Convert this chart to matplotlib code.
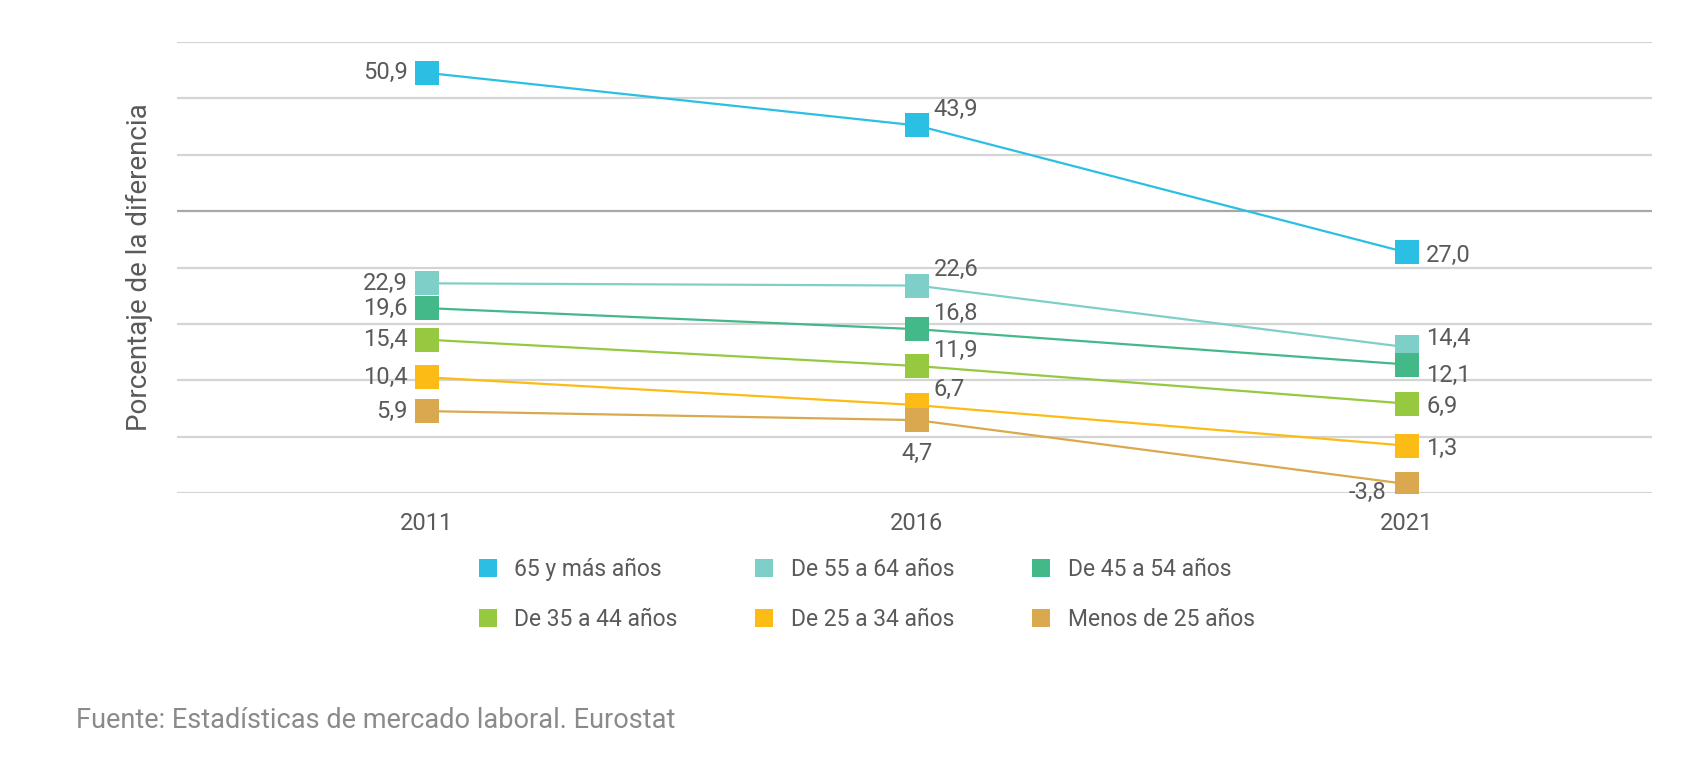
import numpy as np
import matplotlib
matplotlib.use('Agg')
import matplotlib.pyplot as plt
from matplotlib.lines import Line2D

# Data
years = ['2011', '2016', '2021']
groups = ['65 y más años', 'De 55 a 64 años', 'De 45 a 54 años',
          'De 35 a 44 años', 'De 25 a 34 años', 'Menos de 25 años']
v65 = [50.9, 43.9, 27.0]
v55 = [22.9, 22.6, 14.4]
v45 = [19.6, 16.8, 12.1]
v35 = [15.4, 11.9, 6.9]
v25 = [10.4, 6.7, 1.3]
v_menos25 = [5.9, 4.7, -3.8]
series = [v65, v55, v45, v35, v25, v_menos25]
colors = ['#2bbfe3', '#7fcfc9', '#43b98a', '#96c840', '#fcbb15', '#d9a84f']

plt.rcParams['font.family'] = ['Roboto', 'DejaVu Sans']
text_color = '#5a5a5a'

fig = plt.figure(figsize=(17.06, 7.74), dpi=100)
ax = fig.add_axes([0.1038, 0.363, 0.8644, 0.5827])

x = np.arange(len(years))
for i, (vals, col) in enumerate(zip(series, colors)):
    ax.plot(x, vals, color=col, lw=1.6, marker='s', markersize=17,
            markeredgewidth=0, zorder=3 + i)
    for j, v in enumerate(vals):
        txt = f'{v:.1f}'.replace('.', ',')
        last = (i == len(series) - 1)
        if j == 0:
            off, ha, va = (-14, 0), 'right', 'center'
        elif j == 1:
            off, ha, va = ((0, -16), 'center', 'top') if last else ((12, 3), 'left', 'bottom')
        else:
            if last:
                off, ha, va = (-15, -6), 'right', 'center'
            elif i == 1:
                off, ha, va = (14, 6), 'left', 'center'
            elif i == 2:
                off, ha, va = (14, -8), 'left', 'center'
            else:
                off, ha, va = (14, -2), 'left', 'center'
        ax.annotate(txt, (x[j], v), xytext=off, textcoords='offset points',
                    ha=ha, va=va, fontsize=17, color=text_color, zorder=10)

# grid lines (no y labels in the original)
yticks = np.arange(-5, 55.1, 7.5)
ax.set_yticks(yticks)
ax.set_yticklabels([])
ax.set_ylim(-5, 55)
ax.set_xlim(-0.51, 2.5)
ax.set_xticks(x)
ax.set_xticklabels(years, fontsize=17, color=text_color)
ax.tick_params(axis='both', length=0)
ax.tick_params(axis='x', pad=14)
for yt in yticks:
    c = '#a8a8a8' if yt == 32.5 else '#d4d4d4'
    ax.axhline(yt, color=c, lw=1.6, zorder=1)
for s in ax.spines.values():
    s.set_visible(False)

ax.set_ylabel('Porcentaje de la diferencia', fontsize=20, color=text_color,
              labelpad=14)

# legend, filled column by column
order = [0, 3, 1, 4, 2, 5]
handles = [Line2D([], [], ls='none', marker='s', markersize=13,
                  markeredgewidth=0, color=colors[k]) for k in order]
labels = [groups[k] for k in order]
fig.legend(handles, labels, ncol=3, loc='center', bbox_to_anchor=(0.508, 0.232),
           frameon=False, fontsize=16.5, labelcolor=text_color, handlelength=0.8,
           handletextpad=0.75, columnspacing=3.4, labelspacing=1.2)

fig.text(76 / 1706, 1 - 720 / 774, 'Fuente: Estadísticas de mercado laboral. Eurostat',
         fontsize=19.5, color='#8a8a8a', va='center', ha='left')

fig.savefig('out.png', dpi=100, facecolor='white')
